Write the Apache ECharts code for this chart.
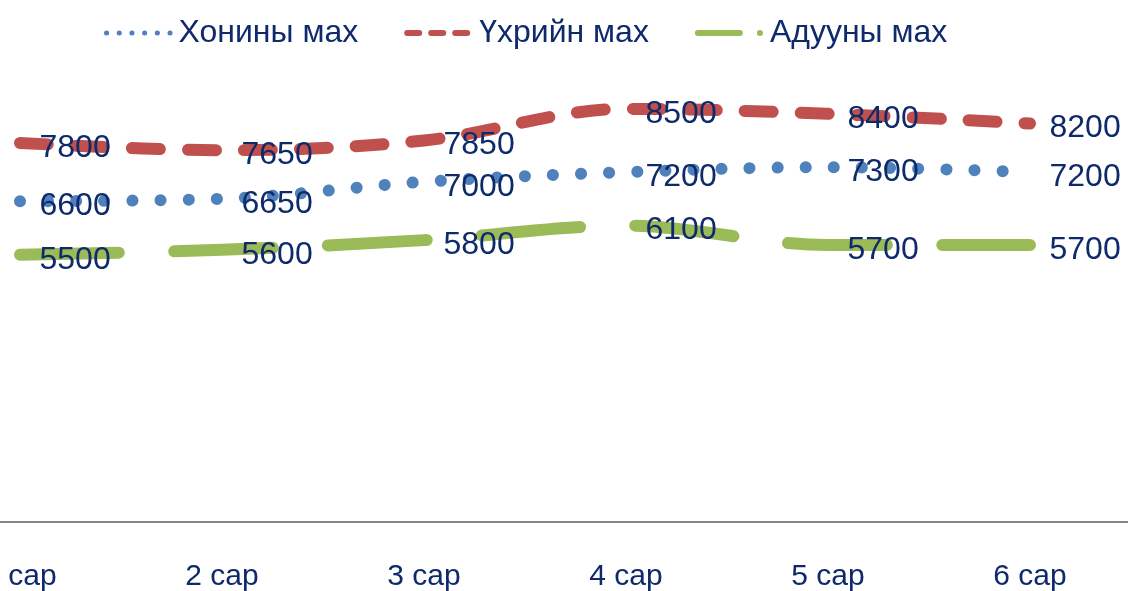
<!DOCTYPE html>
<html>
<head>
<meta charset="utf-8">
<script src="https://cdn.jsdelivr.net/npm/echarts@6/dist/echarts.min.js"></script>
<style>html,body{margin:0;padding:0;background:#fff;}#c{width:1128px;height:591px;}</style>
</head>
<body>
<div id="c"></div>
<script>
const categories = ['1 сар', '2 сар', '3 сар', '4 сар', '5 сар', '6 сар'];
const seriesNames = ['Хонины мах', 'Үхрийн мах', 'Адууны мах'];
const sheep = [6600, 6650, 7000, 7200, 7300, 7200];
const beef = [7800, 7650, 7850, 8500, 8400, 8200];
const horse = [5500, 5600, 5800, 6100, 5700, 5700];

const textColor = '#0E2A6A';
const font = 'Liberation Sans';
const colors = ['#4F81BD', '#C0504D', '#9BBB59'];

function mk(name, data, color, dash) {
  return {
    name: name,
    type: 'line',
    xAxisIndex: 1,
    yAxisIndex: 1,
    data: data,
    smooth: 0.35,
    symbol: 'circle',
    symbolSize: 1,
    showSymbol: true,
    itemStyle: { color: 'rgba(0,0,0,0)' },
    lineStyle: { color: color, width: 12, type: dash, cap: 'round', join: 'round' },
    label: {
      show: true, position: 'right', distance: 19, offset: [0, 5],
      color: textColor, fontFamily: font, fontSize: 32
    },
    emphasis: { disabled: true },
    animation: false
  };
}

const chart = echarts.init(document.getElementById('c'));
chart.setOption({
  backgroundColor: '#fff',
  animation: false,
  legend: {
    left: 99, top: 12,
    itemWidth: 67, itemHeight: 30, itemGap: 46,
    textStyle: { color: textColor, fontFamily: font, fontSize: 32, padding: [0, 0, 0, 0] },
    data: [
      { name: seriesNames[0], lineStyle: { width: 5, type: [0.1, 12.6], cap: 'round' } },
      { name: seriesNames[1], lineStyle: { width: 6, type: [12, 12], cap: 'round' } },
      { name: seriesNames[2], lineStyle: { width: 6, type: [42, 20, 0.1, 100], cap: 'round' } }
    ]
  },
  grid: [
    { left: 0, right: 0, top: 36, bottom: 69, outerBoundsMode: 'none', containLabel: false },
    { left: 20, right: 98, top: 36, bottom: 69, outerBoundsMode: 'none', containLabel: false }
  ],
  xAxis: [
    {
      gridIndex: 0, type: 'value', min: 0, max: 1,
      axisLine: { show: true, lineStyle: { color: '#868686', width: 2 } },
      axisTick: { show: false }, axisLabel: { show: false }, splitLine: { show: false }
    },
    {
      gridIndex: 1, type: 'category', data: categories, boundaryGap: false,
      axisLine: { show: false },
      axisTick: { show: false },
      axisLabel: { color: textColor, fontFamily: font, fontSize: 30, margin: 40 },
      splitLine: { show: false }
    }
  ],
  yAxis: [
    { gridIndex: 0, type: 'value', min: 0, max: 10000, show: false, splitLine: { show: false } },
    { gridIndex: 1, type: 'value', min: 0, max: 10000, show: false, splitLine: { show: false } }
  ],
  series: [
    mk(seriesNames[0], sheep, colors[0], [0.1, 28]),
    mk(seriesNames[1], beef, colors[1], [28, 28]),
    mk(seriesNames[2], horse, colors[2], [99, 55])
  ]
});
</script>
</body>
</html>
